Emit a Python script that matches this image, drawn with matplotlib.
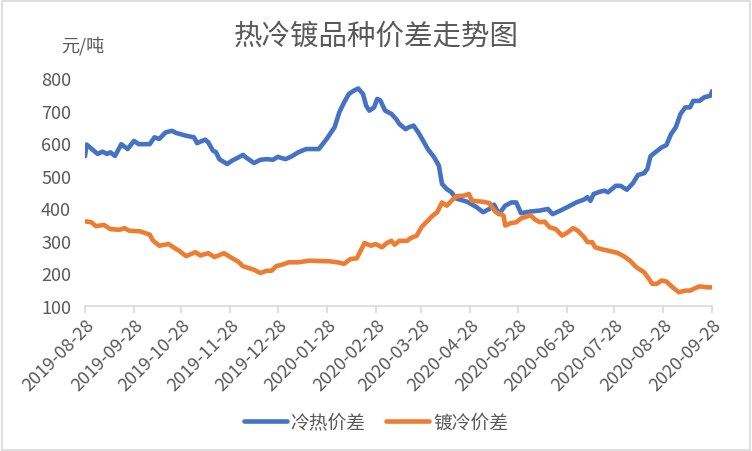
from datetime import date, timedelta
import matplotlib
matplotlib.use('Agg')
import matplotlib.pyplot as plt
import matplotlib.dates as mdates
from matplotlib.patches import Rectangle

plt.rcParams['font.family'] = ['Noto Sans CJK SC', 'DejaVu Sans']

# ================== DATA ==================

START = date(2019, 8, 28)
END = date(2020, 9, 28)

# days after START, value (元/吨)
hot_cold_days = [0, 1, 8, 11, 14, 16, 19, 23, 27, 31, 34, 41, 44, 47, 51, 55, 58, 64, 69, 71,
                 76, 78, 81, 83, 85, 90, 93, 97, 100, 102, 107, 111, 115, 119, 122, 127, 131, 135,
                 140, 148, 153, 158, 161, 164, 167, 170, 173, 176, 178, 180, 183, 185, 187, 190,
                 194, 197, 199, 203, 205, 208, 211, 214, 217, 221, 224, 226, 229, 232, 235, 242,
                 248, 252, 256, 259, 262, 266, 270, 273, 276, 282, 288, 293, 296, 301, 306, 311,
                 316, 318, 320, 322, 326, 329, 331, 336, 339, 343, 347, 350, 354, 356, 358, 361,
                 365, 368, 371, 374, 377, 380, 383, 385, 389, 392, 396, 397]
hot_cold = [560, 596, 567, 574, 567, 572, 561, 597, 582, 607, 597, 597, 618, 613, 633, 638, 631,
            623, 618, 600, 611, 603, 577, 572, 551, 536, 546, 556, 564, 556, 539, 549, 551, 549,
            558, 551, 560, 572, 582, 582, 613, 649, 695, 725, 751, 761, 768, 751, 715, 700, 710,
            736, 731, 700, 690, 674, 659, 643, 649, 654, 633, 608, 582, 557, 531, 475, 459, 449,
            430, 420, 403, 388, 398, 411, 382, 408, 418, 418, 385, 390, 393, 398, 382, 393, 405,
            418, 427, 434, 423, 444, 451, 454, 449, 469, 469, 457, 478, 502, 508, 521, 560, 572,
            587, 594, 628, 649, 690, 710, 710, 730, 730, 741, 746, 760]

galv_cold_days = [0, 4, 7, 12, 16, 22, 25, 28, 35, 41, 43, 47, 53, 56, 60, 64, 70, 73, 78, 82,
                  88, 92, 97, 100, 107, 111, 115, 118, 121, 125, 129, 135, 142, 155, 161, 164,
                  168, 172, 174, 177, 181, 184, 188, 191, 194, 196, 199, 204, 206, 210, 213, 216,
                  220, 223, 226, 229, 232, 235, 240, 243, 245, 252, 256, 257, 260, 263, 265, 266,
                  270, 273, 276, 280, 282, 285, 288, 291, 294, 298, 302, 305, 309, 312, 316, 318,
                  321, 323, 328, 331, 337, 341, 345, 349, 354, 357, 359, 362, 365, 368, 372, 376,
                  380, 383, 386, 389, 394, 397]
galv_cold = [360, 357, 345, 349, 336, 334, 339, 331, 329, 319, 301, 285, 290, 280, 268, 253, 265,
             255, 262, 250, 262, 250, 236, 222, 211, 201, 208, 208, 222, 227, 234, 234, 239, 237,
             233, 229, 244, 246, 265, 293, 285, 290, 280, 293, 300, 288, 300, 300, 308, 316, 342,
             357, 377, 388, 418, 408, 423, 437, 439, 444, 423, 420, 416, 408, 388, 382, 377, 347,
             355, 357, 369, 375, 379, 365, 357, 359, 342, 336, 316, 324, 339, 331, 311, 296, 296,
             280, 273, 270, 263, 253, 239, 219, 203, 183, 168, 168, 178, 175, 157, 142, 147, 147,
             154, 160, 157, 157]

SERIES = ['冷热价差', '镀冷价差']
COLORS = ['#4472C4', '#ED7D31']
TEXT_COLOR = '#595959'


def to_dates(days):
    return [START + timedelta(days=d) for d in days]


# ================== PLOT ==================

fig = plt.figure(figsize=(7.52, 4.52), dpi=100)
ax = fig.add_axes([0.113, 0.321, 0.834, 0.504])

ax.plot(to_dates(hot_cold_days), hot_cold, color=COLORS[0], lw=3.3,
        solid_capstyle='round', solid_joinstyle='round', label=SERIES[0])
ax.plot(to_dates(galv_cold_days), galv_cold, color=COLORS[1], lw=3.3,
        solid_capstyle='round', solid_joinstyle='round', label=SERIES[1])

ax.set_ylim(100, 800)
ax.set_yticks(range(100, 801, 100))
ax.set_xlim(START, END)

ticks = [date(2019 + (7 + i) // 12, (7 + i) % 12 + 1, 28) for i in range(14)]
ax.set_xticks(ticks)
ax.xaxis.set_major_formatter(mdates.DateFormatter('%Y-%m-%d'))
plt.setp(ax.get_xticklabels(), rotation=45, ha='right', rotation_mode='anchor')

for s in ('top', 'right', 'left'):
    ax.spines[s].set_visible(False)
ax.spines['bottom'].set_color('#D9D9D9')
ax.spines['bottom'].set_linewidth(1.2)
ax.tick_params(axis='x', colors='#D9D9D9', labelcolor=TEXT_COLOR, labelsize=13,
               length=5, width=1.2, pad=2)
ax.tick_params(axis='y', length=0, labelcolor=TEXT_COLOR, labelsize=13, pad=10)

fig.text(0.5, 0.918, '热冷镀品种价差走势图', ha='center', va='center',
         fontsize=20.5, color=TEXT_COLOR)
fig.text(0.081, 0.898, '元/吨', ha='left', va='center', fontsize=13, color=TEXT_COLOR)

leg = fig.legend(loc='center', bbox_to_anchor=(0.5, 0.064), ncol=2, frameon=False,
                 fontsize=13.5, handlelength=2.3, columnspacing=1.1, handletextpad=0.2)
for t in leg.get_texts():
    t.set_color(TEXT_COLOR)

fig.patches.append(Rectangle((0.002, 0.003), 0.995, 0.993, transform=fig.transFigure,
                             fill=False, edgecolor='#D9D9D9', lw=1.2))

fig.savefig('out.png', dpi=100)
